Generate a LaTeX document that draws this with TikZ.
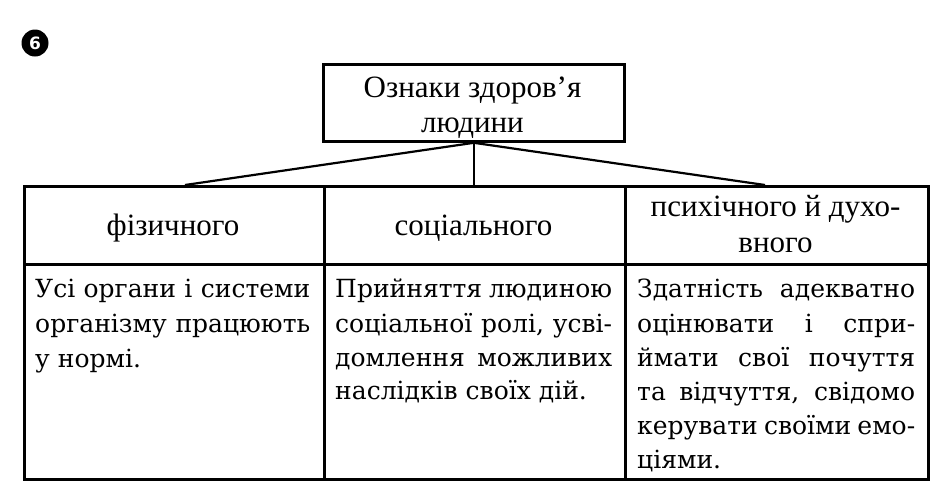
\documentclass[tikz,border=0pt]{standalone}
\usepackage{fontspec}
\setmainfont{DejaVu Serif}
\newfontfamily\timesf{Liberation Serif}
\newfontfamily\numf{DejaVu Sans}
\begin{document}
\begin{tikzpicture}[x=1pt,y=-1pt,
  frame/.style={draw,line width=2.8pt,inner sep=0pt,anchor=north west},
  conn/.style={line width=2.2pt},
  head/.style={font=\timesf\fontsize{31}{35}\selectfont,inner sep=0pt,anchor=base},
  body/.style={font=\fontsize{25}{34}\selectfont,inner sep=0pt,anchor=base west},
]
\useasboundingbox (0,0) rectangle (947,501);
% number badge
\node[circle,fill=black,minimum size=27pt,inner sep=0pt,text=white,
      font=\numf\bfseries\fontsize{17}{17}\selectfont] (num) at (35,43) {6};
% top box
\node[frame,minimum width=301pt,minimum height=77pt] (top) at (322,63) {};
\node[head] (t1) at (472.5,97) {Ознаки здоров’я};
\node[head] (t2) at (472.5,132) {людини};
% header cells
\node[frame,minimum width=300pt,minimum height=78pt] (h1) at (23,185) {};
\node[frame,minimum width=301pt,minimum height=78pt] (h2) at (323,185) {};
\node[frame,minimum width=303pt,minimum height=78pt] (h3) at (624,185) {};
% body cells
\node[frame,minimum width=300pt,minimum height=215pt] (b1) at (23,263) {};
\node[frame,minimum width=301pt,minimum height=215pt] (b2) at (323,263) {};
\node[frame,minimum width=303pt,minimum height=215pt] (b3) at (624,263) {};
% connectors
\coordinate (c1) at (185,185);
\coordinate (c3) at (765,185);
\draw[conn] (top.south) -- (c1);
\draw[conn] (top.south) -- (top.south |- h2.north);
\draw[conn] (top.south) -- (c3);
% header texts
\node[head] (hx1) at (173,235) {фізичного};
\node[head] (hx2) at (473.5,235) {соціального};
\node[head] (hx3a) at (775.5,216) {психічного й духо-};
\node[head] (hx3b) at (775.5,252) {вного};
% body column 1
\node[body] (p1a) at (35,297) {\makebox[275pt][s]{Усі органи і системи}};
\node[body] (p1b) at (35,332) {\makebox[275pt][s]{організму працюють}};
\node[body] (p1c) at (35,367) {у нормі.};
% body column 2
\node[body] (p2a) at (335,297) {\makebox[277pt][s]{Прийняття людиною}};
\node[body] (p2b) at (335,332) {\makebox[277pt][s]{соціальної ролі, усві-}};
\node[body] (p2c) at (335,366) {\makebox[277pt][s]{домлення можливих}};
\node[body] (p2d) at (335,399) {наслідків своїх дій.};
% body column 3
\node[body] (p3a) at (637,297) {\makebox[278pt][s]{Здатність адекватно}};
\node[body] (p3b) at (637,332) {\makebox[278pt][s]{оцінювати і спри-}};
\node[body] (p3c) at (637,366) {\makebox[278pt][s]{ймати свої почуття}};
\node[body] (p3d) at (637,400) {\makebox[278pt][s]{та відчуття, свідомо}};
\node[body] (p3e) at (637,434) {\makebox[278pt][s]{керувати своїми емо-}};
\node[body] (p3f) at (637,468) {ціями.};
\end{tikzpicture}
\end{document}
